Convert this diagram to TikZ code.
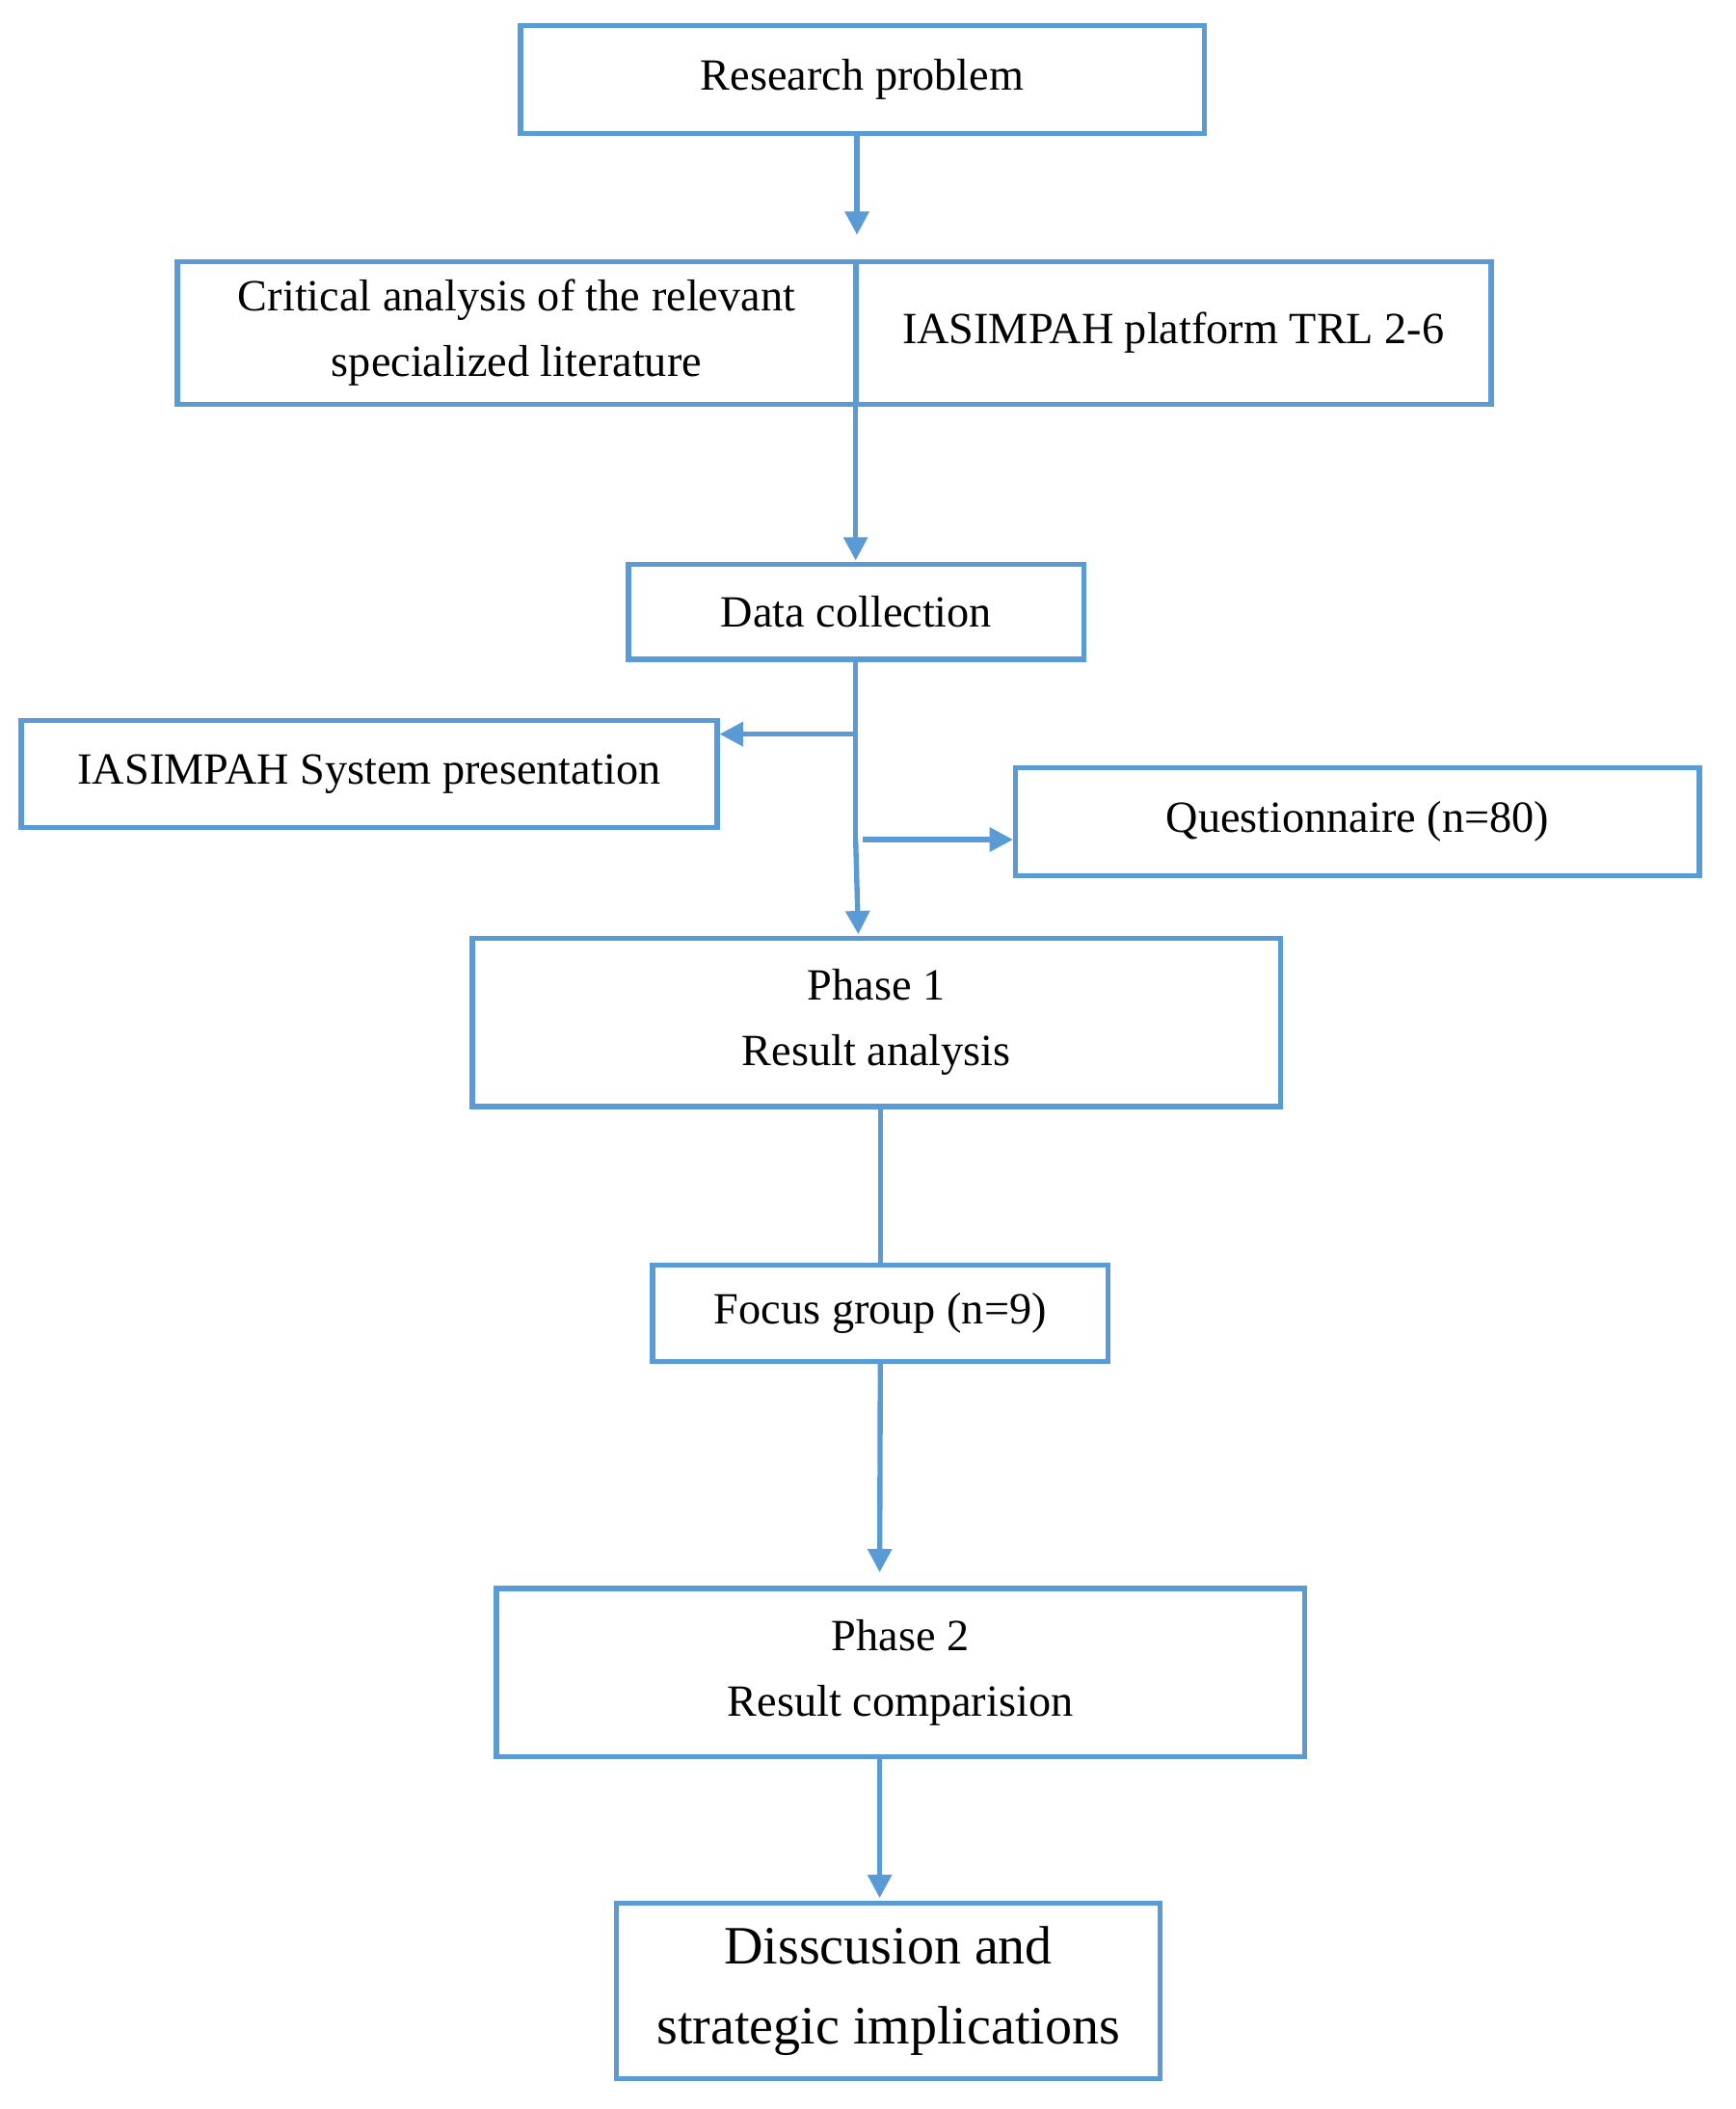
\documentclass[tikz,border=0pt]{standalone}
\usepackage{fontspec}
\setmainfont{Liberation Serif}
\usetikzlibrary{arrows.meta}
\definecolor{bl}{RGB}{91,155,213}
\begin{document}
\begin{tikzpicture}[x=0.01cm,y=-0.01cm,
 box/.style={draw=bl,line width=1.1pt,inner sep=0,align=center,font=\fontsize{9.5}{14}\selectfont},
 ar/.style={draw=bl,line width=1.1pt,-{Triangle[length=5pt,width=5pt]}},
 ln/.style={draw=bl,line width=1.1pt}]
\useasboundingbox (0,0) rectangle (1300,1580);
\node[box,minimum width=5.12cm,minimum height=0.81cm] (rp) at (646,59.5) {Research problem};
\node[box,minimum width=5.08cm,minimum height=1.07cm] (ca) at (387,249.5) {Critical analysis of the relevant\\specialized literature};
\node[box,minimum width=4.76cm,minimum height=1.07cm] (ip) at (879,249.5) {IASIMPAH platform TRL 2-6};
\node[box,minimum width=3.41cm,minimum height=0.71cm] (dc) at (641.5,458.5) {Data collection};
\node[box,minimum width=5.21cm,minimum height=0.80cm] (sp) at (276.5,580) {IASIMPAH System presentation};
\node[box,minimum width=5.12cm,minimum height=0.81cm] (q) at (1017,615.5) {Questionnaire (n=80)};
\node[box,minimum width=6.05cm,minimum height=1.26cm] (p1) at (656.5,766) {Phase 1\\Result analysis};
\node[box,minimum width=3.41cm,minimum height=0.72cm] (fg) at (659.5,984) {Focus group (n=9)};
\node[box,minimum width=6.05cm,minimum height=1.26cm] (p2) at (674.5,1253) {Phase 2\\Result comparision};
\node[box,minimum width=4.07cm,minimum height=1.31cm,font=\fontsize{11.5}{17}\selectfont] (ds) at (665.5,1491.5) {Disscusion and\\strategic implications};
\coordinate (a1) at (642,176);
\draw[ar] (642,100) -- (a1);
\coordinate (c1) at (641,303);
\draw[ar] (c1) -- (641,420);
\draw[ln] (641,494) -- (641,629);
\draw[ar] (641,629) -- (643,700);
\draw[ar] (641,550) -- (sp.east |- 0,550);
\draw[ar] (646,629) -- (q.west |- 0,629);
\draw[ln] (p1.south -| fg.north) -- (fg.north);
\draw[ar] (fg.south) -- (659,1178);
\draw[ar] (659,1316) -- (659,1422);
\end{tikzpicture}
\end{document}
